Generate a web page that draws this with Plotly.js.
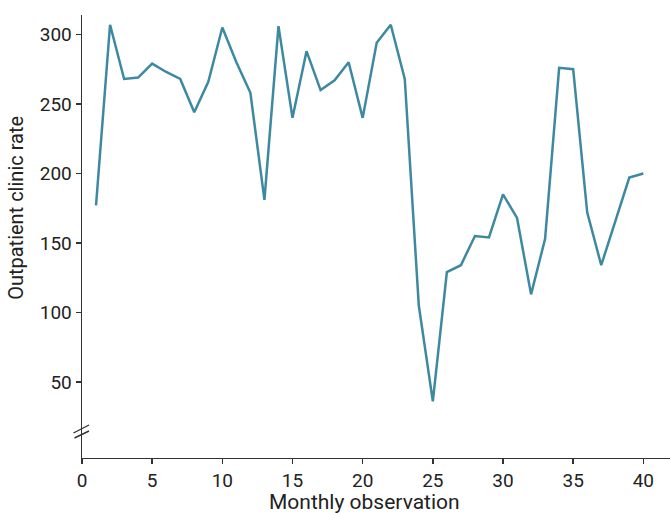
<!DOCTYPE html>
<html>
<head>
<meta charset="utf-8">
<script src="https://cdn.plot.ly/plotly-3.0.1.min.js"></script>
<style>html,body{margin:0;padding:0;background:#fff;}#chart{width:670px;height:513px;}</style>
</head>
<body>
<div id="chart"></div>
<script>
const months = [1,2,3,4,5,6,7,8,9,10,11,12,13,14,15,16,17,18,19,20,21,22,23,24,25,26,27,28,29,30,31,32,33,34,35,36,37,38,39,40];
const rates = [177,307,268,269,279,273,268,244,266,305,280,258,181,306,240,288,260,267,280,240,294,307,268,105,36,129,134,155,154,185,168,113,153,276,275,172,134,166,197,200];
const xTicks = [0,5,10,15,20,25,30,35,40];
const yTicks = [50,100,150,200,250,300];

const axisColor = '#333333';
const textColor = '#222222';
const font = 'Roboto, "Noto Sans", sans-serif';

const trace = {
  x: months, y: rates, type: 'scatter', mode: 'lines',
  line: {color: '#3d89a1', width: 2.5},
  hoverinfo: 'skip'
};

const layout = {
  width: 670, height: 513,
  margin: {l: 82, r: 0, t: 15, b: 55},
  paper_bgcolor: '#fff', plot_bgcolor: '#fff',
  showlegend: false,
  font: {family: font, color: textColor, size: 19},
  xaxis: {
    range: [0, 41.9], tickvals: xTicks, ticktext: xTicks.map(String),
    showgrid: false, zeroline: false, showline: true, linecolor: axisColor, linewidth: 1.4,
    ticks: 'outside', ticklen: 5, tickcolor: axisColor, tickwidth: 1.4,
    tickfont: {family: font, size: 19, color: textColor}
  },
  yaxis: {
    range: [-4.7, 314], tickvals: yTicks, ticktext: yTicks.map(String),
    showgrid: false, zeroline: false, showline: true, linecolor: axisColor, linewidth: 1.4,
    ticks: 'outside', ticklen: 5, tickcolor: axisColor, tickwidth: 1.4,
    tickfont: {family: font, size: 19, color: textColor}
  },
  annotations: [
    {text: 'Monthly observation', xref: 'paper', yref: 'paper', x: 0.48, y: -0.068,
     xanchor: 'center', yanchor: 'top', showarrow: false, font: {family: font, size: 21, color: textColor}},
    {text: 'Outpatient clinic rate', xref: 'paper', yref: 'paper', x: -0.112, y: 0.565,
     xanchor: 'center', yanchor: 'middle', textangle: -90, showarrow: false, font: {family: font, size: 20, color: textColor}}
  ],
  shapes: [
    {type: 'line', xref: 'paper', yref: 'paper', x0: -0.0145, y0: (458-433)/443, x1: 0.0119, y1: (458-425)/443,
     line: {color: axisColor, width: 1.4}},
    {type: 'line', xref: 'paper', yref: 'paper', x0: -0.0128, y0: (458-438)/443, x1: 0.0119, y1: (458-431)/443,
     line: {color: axisColor, width: 1.4}}
  ]
};

Plotly.newPlot('chart', [trace], layout, {displayModeBar: false, staticPlot: true});
</script>
</body>
</html>
